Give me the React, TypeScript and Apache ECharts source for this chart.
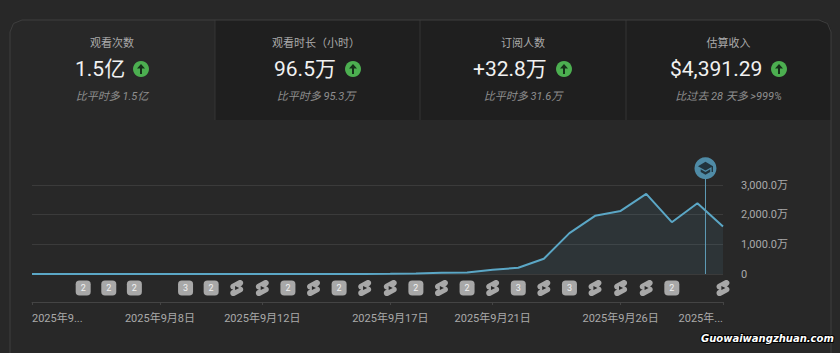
import React, { useEffect, useRef } from "react";
import * as echarts from "echarts";

const views = [2,2,2,2,2,2,2,2,2,2,2,2,3,3,5,15,40,50,140,210,515,1377,1960,2127,2700,1746,2384,1600];
const badges: [number, number][] = [[2,2],[3,2],[4,2],[6,3],[7,2],[10,2],[12,2],[15,2],[17,2],[19,3],[21,3],[25,2]];
const shorts = [8,9,11,13,14,16,18,20,22,23,24,27];
const xTicks = [0,5,9,14,18,23,27];
const xLabels: Record<number,string> = {0:"2025年9...",5:"2025年9月8日",9:"2025年9月12日",14:"2025年9月17日",18:"2025年9月21日",23:"2025年9月26日",27:"2025年..."};
const yLabels: Record<number,string> = {0:"0",1000:"1,000.0万",2000:"2,000.0万",3000:"3,000.0万"};
const eventDay = 26.315;
const eventLine = [[eventDay,0],[eventDay,3400]];
const eventIcon = [[eventDay,3563]];

const cards = [
  { title:"观看次数", value:"1.5亿", sub:"比平时多 1.5亿", cx:112, vx:75, ix:141, bg:"#282828" },
  { title:"观看时长（小时）", value:"96.5万", sub:"比平时多 95.3万", cx:316, vx:274, ix:353, bg:"#1f1f1f" },
  { title:"订阅人数", value:"+32.8万", sub:"比平时多 31.6万", cx:523, vx:473, ix:564, bg:"#1f1f1f" },
  { title:"估算收入", value:"$4,391.29", sub:"比过去 28 天多 >999%", cx:728.5, vx:670, ix:779, bg:"#1f1f1f" },
];
const tileX = [10,215,420,626,831];

const FONT = 'Roboto, "Noto Sans CJK SC", sans-serif';
const SHORTS = "path://M17.77 10.32l-1.2-.5L18 9.06c1.84-.96 2.53-3.23 1.56-5.06s-3.24-2.53-5.07-1.56L6 6.94c-1.29.68-2.07 2.04-2 3.49.07 1.42.93 2.67 2.22 3.25.03.01 1.2.5 1.2.5L6 14.93c-1.83.97-2.53 3.24-1.56 5.07.97 1.83 3.24 2.53 5.07 1.56l8.5-4.5c1.29-.68 2.06-2.04 1.99-3.49-.07-1.42-.94-2.68-2.23-3.25zM10 14.65v-5.3L15 12l-5 2.65z";
const CAP = "path://M12 3L1 9l11 6 9-4.9V17h2V9L12 3zM5 13.2v4L12 21l7-3.8v-4L12 17l-7-3.8z";

function App() {
  const ref = useRef<HTMLDivElement>(null);
  useEffect(() => {
    document.body.style.margin = "0";
    const chart = echarts.init(ref.current!, undefined, { renderer: "svg" });
    const graphic: any[] = [];
    cards.forEach((c, i) => {
      graphic.push({ type:"rect", silent:true, z:1, shape:{ x:tileX[i], y:20, width:tileX[i+1]-tileX[i], height:100, r:i===0?[12,0,0,0]:i===3?[0,12,0,0]:0 }, style:{ fill:c.bg } });
      graphic.push({ type:"text", silent:true, z:3, style:{ text:c.title, x:c.cx, y:43, align:"center", verticalAlign:"middle", fill:"#aaaaaa", font:`11px ${FONT}` } });
      graphic.push({ type:"text", silent:true, z:3, style:{ text:c.value, x:c.vx, y:69, align:"left", verticalAlign:"middle", fill:"#f1f1f1", font:`21px ${FONT}` } });
      graphic.push({ type:"text", silent:true, z:3, style:{ text:c.sub, x:c.cx, y:96, align:"center", verticalAlign:"middle", fill:"#8f8f8f", font:`italic 11px ${FONT}` } });
      graphic.push({ type:"circle", silent:true, z:3, shape:{ cx:c.ix, cy:69, r:8 }, style:{ fill:"#4caf50" } });
      graphic.push({ type:"polygon", silent:true, z:4, shape:{ points:[[c.ix,64],[c.ix+4,68.5],[c.ix+1,68.5],[c.ix+1,74],[c.ix-1,74],[c.ix-1,68.5],[c.ix-4,68.5]] }, style:{ fill:"#16301a" } });
    });
    [215,420,626].forEach((x) => graphic.push({ type:"line", silent:true, z:2, shape:{ x1:x, y1:20, x2:x, y2:120 }, style:{ stroke:"#353535", lineWidth:1 } }));
    graphic.push({ type:"polyline", silent:true, z:2, shape:{ points:[[10,353],[10,32],[13.5,23.5],[22,20],[819,20],[827.5,23.5],[831,32],[831,353]] }, style:{ stroke:"#3e3e3e", lineWidth:1, fill:"none" } });
    graphic.push({ type:"text", silent:true, z:5, style:{ text:"Guowaiwangzhuan.com", x:701, y:338, align:"left", verticalAlign:"middle", fill:"#ffffff", stroke:"#000000", lineWidth:2, font:'italic bold 10px "DejaVu Sans", sans-serif' } });

    chart.setOption({
      animation: false,
      backgroundColor: "#282828",
      textStyle: { fontFamily: FONT },
      graphic,
      grid: [
        { left:32, right:117, top:185, height:89 },
        { left:32, right:117, top:274, height:28 },
        { left:32, right:117, top:155.33, height:118.67 },
      ],
      xAxis: [
        { type:"value", gridIndex:0, min:0, max:27, axisLine:{ show:false }, axisTick:{ show:false }, axisLabel:{ show:false }, splitLine:{ show:false } },
        { type:"value", gridIndex:1, min:0, max:27, splitLine:{ show:false },
          axisLine:{ show:true, onZero:false, lineStyle:{ color:"#444444", width:1 } },
          axisTick:{ show:true, length:3, customValues:xTicks, lineStyle:{ color:"#444444" } },
          axisLabel:{ show:true, customValues:xTicks, margin:11, color:"#aaaaaa", fontSize:11, fontFamily:FONT, alignMinLabel:"left", alignMaxLabel:"right", formatter:(v:number)=>xLabels[v] ?? "" } },
        { type:"value", gridIndex:2, min:0, max:27, show:false },
      ],
      yAxis: [
        { type:"value", gridIndex:0, position:"right", min:0, max:3000, interval:1000,
          axisLine:{ show:false }, axisTick:{ show:false },
          splitLine:{ lineStyle:{ color:"#3b3b3b", width:1 } },
          axisLabel:{ margin:18, align:"left", color:"#aaaaaa", fontSize:11, fontFamily:FONT, formatter:(v:number)=>yLabels[v] ?? "" } },
        { type:"value", gridIndex:1, min:0, max:28, show:false },
        { type:"value", gridIndex:2, min:0, max:4000, show:false },
      ],
      series: [
        { type:"line", xAxisIndex:0, yAxisIndex:0, symbol:"none", z:3,
          data: views.map((v,i)=>[i,v]),
          lineStyle:{ color:"#5ba7c6", width:2 }, areaStyle:{ color:"rgba(91,167,198,0.14)" } },
        { type:"line", xAxisIndex:2, yAxisIndex:2, symbol:"none", z:4, silent:true,
          data: eventLine, lineStyle:{ color:"#5f9db8", width:1 } },
        { type:"scatter", xAxisIndex:2, yAxisIndex:2, symbol:"circle", symbolSize:22, z:5, silent:true,
          data: eventIcon, itemStyle:{ color:"#4f8ba6", opacity:1 } },
        { type:"scatter", xAxisIndex:2, yAxisIndex:2, symbol:CAP, symbolSize:[15,13], z:6, silent:true,
          data: eventIcon, itemStyle:{ color:"#22343d", opacity:1 } },
        { type:"scatter", xAxisIndex:1, yAxisIndex:1, symbol:"roundRect", symbolSize:15, z:3,
          data: badges.map(([d,n])=>[d,14,n]), itemStyle:{ color:"#a8a8a8", opacity:1 },
          label:{ show:true, position:"inside", color:"#f1f1f1", fontSize:9, fontFamily:FONT, formatter:(p:any)=>String(p.data[2]) } },
        { type:"scatter", xAxisIndex:1, yAxisIndex:1, symbol:SHORTS, symbolSize:[13,16], z:3, clip:false,
          data: shorts.map((d)=>[d,14]), itemStyle:{ color:"#a8a8a8", opacity:1 } },
      ],
    });
    return () => chart.dispose();
  }, []);
  return <div ref={ref} style={{ width:840, height:353 }} />;
}

export default App;
